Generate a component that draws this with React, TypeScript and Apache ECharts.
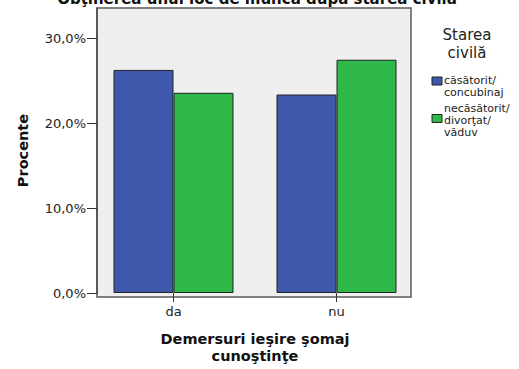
import React, { useEffect, useRef } from "react";
import * as echarts from "echarts";

const categories = ["da", "nu"];
const seriesNames = ["căsătorit/\nconcubinaj", "necăsătorit/\ndivorţat/\nvăduv"];
const married = [26.3, 23.4];
const unmarried = [23.6, 27.5];
const yTicks = [0, 10, 20, 30];
const colors = ["#3e58ab", "#2eb84a"];

const FONT = "'DejaVu Sans', Verdana, sans-serif";

export default function App() {
  const ref = useRef<HTMLDivElement>(null);
  useEffect(() => {
    if (!ref.current) return;
    const chart = echarts.init(ref.current, null, { renderer: "svg" });
    chart.setOption({
      animation: false,
      backgroundColor: "#ffffff",
      textStyle: { fontFamily: FONT },
      grid: { left: 92, right: 101, top: 8, bottom: 72, containLabel: false },
      graphic: [
        {
          type: "rect",
          z: -10,
          shape: { x: 97, y: 8, width: 314, height: 289 },
          style: { fill: "#efefef", stroke: "#5a5a5a", lineWidth: 1.5 },
        },
        {
          type: "text",
          x: 257,
          y: -1,
          style: {
            text: "Obţinerea unui loc de muncă după starea civilă",
            font: `bold 15px ${FONT}`,
            fill: "#111",
            align: "center",
            verticalAlign: "middle",
          },
        },
        {
          type: "text",
          x: 467,
          y: 44,
          style: {
            text: "Starea\ncivilă",
            font: `15px ${FONT}`,
            lineHeight: 18,
            fill: "#222",
            align: "center",
            verticalAlign: "middle",
          },
        },
        {
          type: "rect",
          shape: { x: 432, y: 77, width: 10, height: 8 },
          style: { fill: colors[0], stroke: "#222", lineWidth: 1 },
        },
        {
          type: "text",
          x: 444,
          y: 86,
          style: {
            text: seriesNames[0],
            font: `11px ${FONT}`,
            lineHeight: 12,
            fill: "#222",
            align: "left",
            verticalAlign: "middle",
          },
        },
        {
          type: "rect",
          shape: { x: 432, y: 114.5, width: 10, height: 8 },
          style: { fill: colors[1], stroke: "#222", lineWidth: 1 },
        },
        {
          type: "text",
          x: 444,
          y: 120,
          style: {
            text: seriesNames[1],
            font: `11px ${FONT}`,
            lineHeight: 12,
            fill: "#222",
            align: "left",
            verticalAlign: "middle",
          },
        },
      ],
      xAxis: {
        type: "category",
        data: categories,
        name: "Demersuri ieşire şomaj\ncunoştinţe",
        nameLocation: "middle",
        nameGap: 37,
        nameTextStyle: { fontWeight: "bold", fontSize: 14.5, lineHeight: 17, color: "#111", fontFamily: FONT },
        axisLine: { show: false },
        axisTick: { show: true, alignWithLabel: true, length: 9, lineStyle: { color: "#333" } },
        axisLabel: { fontSize: 13, color: "#222", margin: 12, fontFamily: FONT },
      },
      yAxis: {
        type: "value",
        min: 0,
        max: 33.6,
        interval: 10,
        offset: -5,
        name: "Procente",
        nameLocation: "middle",
        nameGap: 67,
        nameTextStyle: { fontWeight: "bold", fontSize: 14.5, color: "#111", fontFamily: FONT },
        axisLine: { show: true, lineStyle: { color: "#4a4a4a", width: 1.5 } },
        axisTick: { show: true, length: 10, lineStyle: { color: "#333" } },
        splitLine: { show: false },
        axisLabel: {
          fontSize: 13,
          color: "#222",
          margin: 11,
          fontFamily: FONT,
          showMaxLabel: false,
          formatter: (v: number) => (yTicks.includes(v) ? v.toFixed(1).replace(".", ",") + "%" : ""),
        },
      },
      series: [
        {
          name: seriesNames[0],
          type: "bar",
          data: married,
          barWidth: 60,
          barGap: "0%",
          itemStyle: { color: colors[0], borderColor: "#222", borderWidth: 1 },
        },
        {
          name: seriesNames[1],
          type: "bar",
          data: unmarried,
          barWidth: 60,
          barGap: "0%",
          itemStyle: { color: colors[1], borderColor: "#222", borderWidth: 1 },
        },
      ],
    });
    return () => chart.dispose();
  }, []);
  return <div ref={ref} style={{ width: 519, height: 369, position: "absolute", left: 0, top: 0 }} />;
}
